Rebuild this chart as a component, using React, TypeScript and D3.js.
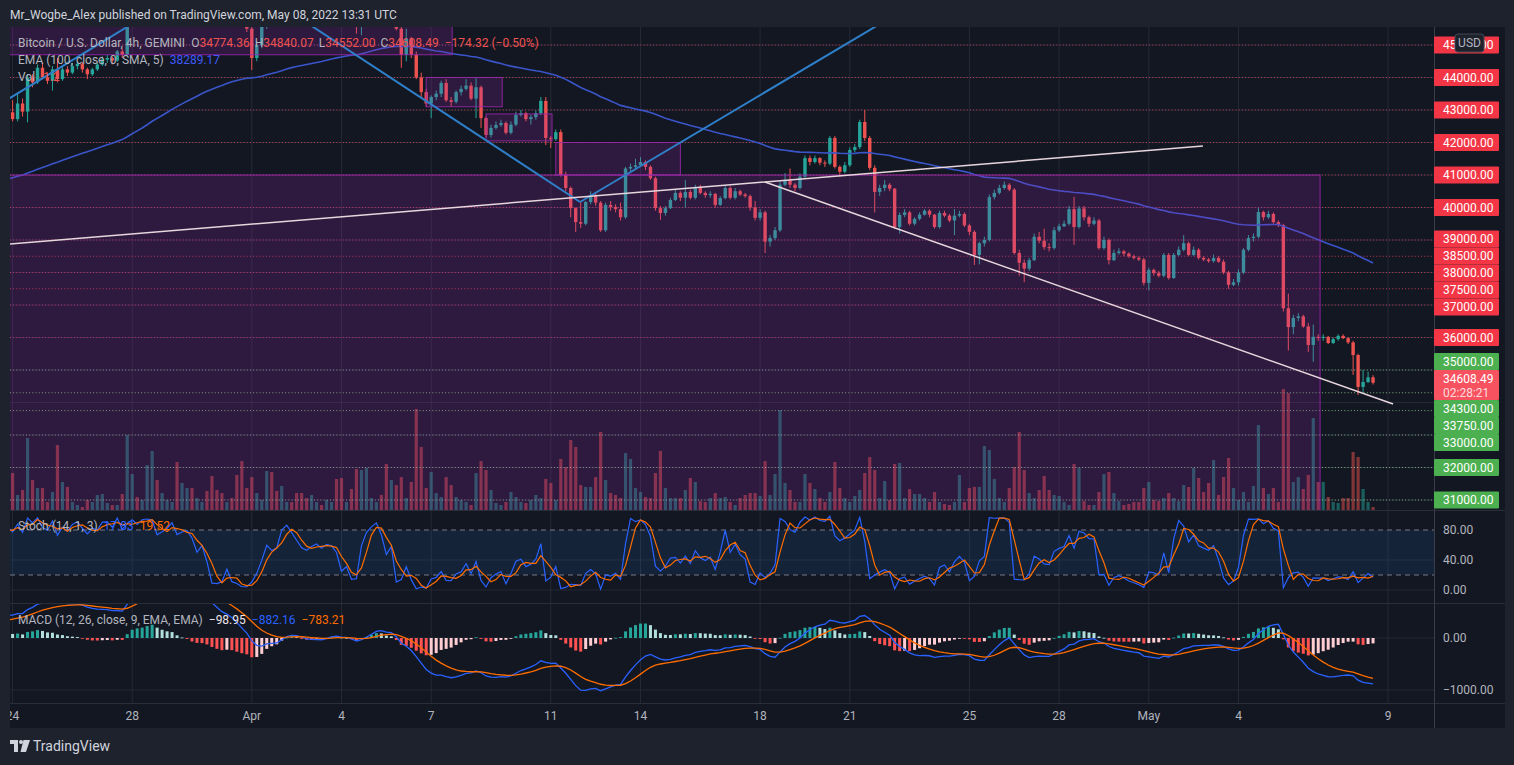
import React from "react";
import * as d3 from "d3";

// ---------------- data ----------------
// 4h bars, GEMINI BTC/USD. Warm-up bars (Mar 21-23) sit left of the visible area and only feed the indicators.
const firstBarTime = Date.UTC(2022, 2, 21, 0, 0);
const barHours = 4;
const firstOpen = 41250;
const warmupClose = [41050,40950,41150,41350,41100,41000,41150,41650,42350,42900,42550,42380,42100,42300,42550,42800,42700,42930];
const warmupHigh = [41400,41200,41300,41550,41400,41200,41250,41750,42500,43360,43000,42650,42450,42500,42700,43050,42900,43050];
const warmupLow = [40900,40700,40900,41100,40900,40550,40900,41050,41600,42250,42300,42200,41750,41900,42200,42450,42500,42600];

// visible bars from Mar 24 00:00 UTC
const close = [
42720,43200,42950,44000,43850,44300,44000,43900,44250,43950,
44250,44150,44350,44420,44250,44100,44250,44400,44550,44600,
44520,44800,44700,46500,46900,46700,46900,47500,47900,47100,
47300,47500,47800,47200,47350,47450,47100,47250,47500,47200,
46700,46600,46500,46800,46500,46000,45700,45500,44600,45000,
45600,46300,46000,45950,46600,46800,46500,46200,45900,45800,
45950,46050,46000,46300,46500,46400,46000,46100,45800,45600,
46300,46600,46900,47000,46700,46200,46400,45500,44700,45200,
44700,44000,43550,43200,43400,43500,43830,43300,43250,43550,
43650,43750,43350,43700,42750,42230,42450,42540,42600,42300,
42550,42850,42900,42720,42780,42900,43280,42140,42100,42320,
41000,40600,39980,39550,39500,40170,40380,40150,39300,40080,
40020,39950,39700,41200,41250,41300,41400,41250,40900,39980,
39830,39980,40230,40450,40300,40480,40300,40630,40450,40380,
40420,40080,40290,40600,40300,40500,40400,40350,40000,39680,
39850,38950,39060,39300,40700,40850,40700,40600,40950,41520,
41400,41520,41380,41350,42140,41250,41100,41300,41770,41860,
42630,42140,41220,40480,40600,40700,40580,39400,39770,39850,
39500,39650,39780,39900,39780,39400,39830,39750,39600,39750,
39800,39450,39250,38540,38900,39000,40320,40450,40600,40700,
40550,38600,38300,38120,38380,39100,38980,38780,38750,39300,
39420,39500,39950,39400,39970,39700,39500,39600,38750,39000,
38380,38600,38650,38580,38500,38450,38400,37680,38080,37980,
37900,38540,37830,38540,38700,38900,38540,38700,38450,38400,
38350,38450,38330,38000,37620,37700,38000,38700,39060,39100,
39860,39700,39800,39550,39460,36900,36320,36600,36650,36340,
35770,36020,36000,36020,35830,35950,36050,35980,35850,35460,
34480,34630,34774.36,34608.49];
const high = [
43300,43520,43350,44100,44100,44400,44450,44100,44350,44600,
44350,44350,44450,44500,44480,44300,44300,44450,44650,44700,
44650,44850,44900,46850,47100,47000,47000,47700,48190,48000,
47400,47600,48100,47900,47500,47600,47500,47350,47700,47600,
47300,46900,47000,47000,46900,46600,46100,45800,45600,45100,
45700,46400,46700,46200,47200,46900,46900,46600,46300,46000,
46050,46150,46100,46400,47000,46700,46500,46200,46150,45900,
46400,46900,47200,47150,47050,46750,46500,46450,45600,45500,
45250,44800,44150,43650,43450,43600,43900,43950,43400,43600,
43750,43950,43850,43980,43750,42800,42550,42650,42700,42650,
42650,42950,43000,42950,42850,42980,43400,43400,42200,42400,
42400,41100,40650,40000,40170,40200,40500,40450,40200,40150,
40200,40100,40150,41250,41350,41500,41550,41450,41300,40950,
40050,40050,40300,40550,40500,40850,40550,40700,40700,40500,
40500,40450,40350,40680,40650,40600,40550,40450,40400,40200,
39950,39900,39150,39400,40800,41060,41200,40750,41050,41600,
41600,41600,41550,41450,42200,42200,41300,41400,41850,41950,
42700,43000,42200,41300,40700,40850,40750,40600,39850,39950,
39900,39700,39850,39950,39950,39800,39900,39900,39800,39950,
39900,39850,39500,39300,38950,39100,40400,40550,40700,40800,
40750,40600,38700,38400,38450,39200,39250,39350,38900,39400,
39500,39600,40050,40330,40050,40050,39750,39700,39650,39100,
39050,38700,38750,38700,38620,38550,38500,38450,38150,38120,
38050,38600,38600,38600,38800,39150,38950,38800,38750,38500,
38450,38550,38500,38400,38050,37800,38100,38750,39150,39200,
39990,39900,39900,39850,39600,39500,37350,36700,36750,36700,
36450,36400,36100,36100,36050,36000,36100,36100,36000,35900,
35500,35000,34950,34840.07];
const low = [
42650,42650,42800,42620,43700,43800,43950,43800,43600,43850,
43900,44050,44100,44250,44150,43950,44050,44200,44350,44450,
44400,44480,44600,44650,46300,46500,46600,46800,47300,46900,
46950,47200,47400,47000,47000,47250,46900,46950,47200,47000,
46550,46450,46300,46400,46300,45800,45600,45400,44230,44500,
44900,45500,45900,45800,45900,46500,46400,46000,45650,45650,
45600,45900,45900,45950,46250,46300,45900,45900,45700,45350,
45300,46200,46500,46800,46600,46100,46100,45450,44300,44500,
44600,43950,43400,43090,42750,43300,43400,43250,43100,43200,
43450,43600,43300,42750,42450,42150,42150,42400,42480,42250,
42250,42500,42800,42650,42550,42700,42850,41920,41830,42050,
40950,40500,39700,39250,39370,39450,40100,40050,39250,39250,
39900,39850,39600,39650,41100,41150,41250,41150,40850,39900,
39620,39750,39950,40200,40200,40000,40250,40250,40400,40300,
40300,40000,40050,40250,40250,40250,40350,40300,39900,39600,
39600,38600,38800,39000,39250,40650,40600,40500,40550,40900,
41300,41350,41300,41250,41300,41200,40950,41050,41250,41700,
41800,42050,41150,39850,40350,40500,40500,39350,39200,39700,
39450,39450,39600,39750,39700,39350,39350,39700,39550,39150,
39700,39400,39150,38230,38250,38800,38950,40250,40400,40550,
40500,38550,37900,37700,38050,38350,38900,38700,38650,38700,
39250,39400,39450,38850,39350,39600,39400,39450,38700,38700,
38250,38350,38550,38500,38450,38400,38350,37600,37450,37900,
37850,37850,37780,37800,38500,38650,38500,38500,38400,38350,
38300,38300,38300,37950,37500,37580,37600,37950,38650,38950,
39050,39600,39650,39500,39400,36800,35600,36100,36500,36300,
35550,35250,35900,35900,35800,35800,35900,35950,35800,34850,
34230,34300,34600,34552];
const volume = [
370,150,200,720,300,220,220,80,180,650,280,230,80,50,30,100,80,150,160,70,50,50,160,750,
360,130,100,450,590,300,170,100,80,480,270,220,220,120,80,190,340,200,170,80,120,350,490,220,
330,170,100,390,380,190,240,80,80,170,170,120,150,80,50,100,80,310,320,80,210,410,400,420,120,80,
150,460,300,250,330,120,280,1010,630,220,380,170,130,330,250,130,100,80,50,370,490,400,200,70,50,80,
180,130,80,70,100,150,120,310,270,100,510,430,700,630,250,230,230,330,780,300,170,150,120,570,510,220,
180,130,120,370,590,220,120,120,120,200,320,280,90,80,120,170,120,130,80,50,120,150,170,170,
140,490,150,360,1000,270,200,80,80,360,270,210,120,80,180,480,220,120,80,140,200,370,530,400,
120,290,100,460,470,120,210,160,160,120,80,180,80,60,50,80,350,80,220,230,230,640,600,310,
120,80,220,430,780,400,170,120,200,340,200,150,140,80,50,460,420,90,50,50,180,360,380,170,
90,50,60,80,80,220,280,100,90,120,170,120,90,250,230,420,320,180,270,500,150,330,520,220,
100,180,80,240,850,220,160,220,80,1210,1170,280,330,210,350,920,280,280,130,80,70,120,120,580,530,210,80,30];
const emaSeed = 40400; // EMA(100) value at the first warm-up bar

const tickDates = ["2022-03-24","2022-03-28","2022-04-01","2022-04-04","2022-04-07","2022-04-11","2022-04-14","2022-04-18","2022-04-21","2022-04-25","2022-04-28","2022-05-01","2022-05-04","2022-05-09"];
const tickLabels = ["24","28","Apr","4","7","11","14","18","21","25","28","May","4","9"];

const redLevels = [45000,44000,43000,42000,41000,40000,39000,38500,38000,37500,37000,36000];
const greenLevels = [35000,34300,33750,33000,32000,31000];
const lastPrice = 34608.49;
const lastPriceTimer = "02:28:21";
const priceGrid = [45000,44000,43000,42000,41000,40000,39000,38000,37000,36000,35000,34000,33000,32000,31000];

const boxes = [
  { from: "2022-03-23T00:00Z", to: "2022-05-06T17:30Z", top: 41000, bottom: 30000 },
  { from: "2022-03-23T00:00Z", to: "2022-04-07T16:50Z", top: 46500, bottom: 44700 },
  { from: "2022-04-06T20:00Z", to: "2022-04-09T09:00Z", top: 44000, bottom: 43100 },
  { from: "2022-04-08T20:00Z", to: "2022-04-11T01:00Z", top: 42880, bottom: 42050 },
  { from: "2022-04-11T04:00Z", to: "2022-04-15T08:00Z", top: 42000, bottom: 41000 },
];
const blueLines = [
  [["2022-03-23T12:00Z", 43138], ["2022-03-29T00:00Z", 46210]],
  [["2022-04-01T16:15Z", 46385], ["2022-04-11T23:30Z", 40169]],
  [["2022-04-11T23:30Z", 40169], ["2022-04-22T16:20Z", 46015]],
];
const whiteLines = [
  [["2022-03-23T12:00Z", 38846], ["2022-05-02T19:25Z", 41892]],
  [["2022-04-18T03:50Z", 40785], ["2022-05-09T04:05Z", 33954]],
];

// ---------------- styling ----------------
const FONT = "Roboto, 'Noto Sans', sans-serif";
const UP = "#26a69a";
const DOWN = "#ef5350";
const TXT = "#b2b5be";
const GRID = "#252936";

function layoutLabels(desired: number[], heights: number[]): number[] {
  const idx = desired.map((_, i) => i).sort((a, b) => desired[a] - desired[b]);
  const place = (ids: number[]) => {
    const total = d3.sum(ids, (i) => heights[i]);
    const mean = d3.mean(ids, (i) => desired[i]) as number;
    const pushTop = desired[ids[0]] - heights[ids[0]] / 2;
    return { ids, total, top: (mean - total / 2) * 0.7 + pushTop * 0.3 };
  };
  let groups = idx.map((i) => place([i]));
  let merged = true;
  while (merged) {
    merged = false;
    for (let j = 1; j < groups.length; j++) {
      const a = groups[j - 1], b = groups[j];
      if (a.top + a.total > b.top + 0.01) {
        groups.splice(j - 1, 2, place([...a.ids, ...b.ids]));
        merged = true;
        break;
      }
    }
  }
  const out: number[] = new Array(desired.length);
  groups.forEach((g) => {
    let y = g.top;
    g.ids.forEach((i) => { out[i] = y + heights[i] / 2; y += heights[i]; });
  });
  return out;
}

export default function App() {
  const PRE = warmupClose.length;
  const allC = [...warmupClose, ...close];
  const allH = [...warmupHigh, ...high];
  const allL = [...warmupLow, ...low];
  const bars = allC.map((c, i) => {
    const o = i === 0 ? firstOpen : allC[i - 1];
    return {
      i, k: i - PRE,
      t: new Date(firstBarTime + i * barHours * 3600e3),
      o, c,
      h: Math.max(allH[i], o, c),
      l: Math.min(allL[i], o, c),
      v: i >= PRE ? volume[i - PRE] : 0,
    };
  });

  const emaCalc = (vals: number[], period: number, seed: number) => {
    const a = 2 / (period + 1);
    let e = seed;
    return vals.map((v, i) => { e = i === 0 ? seed : e + a * (v - e); return e; });
  };
  const ema100 = emaCalc(allC, 100, emaSeed);
  const e12 = emaCalc(allC, 12, allC[0]);
  const e26 = emaCalc(allC, 26, allC[0]);
  const macd = e12.map((v, i) => v - e26[i]);
  const signal = emaCalc(macd, 9, macd[0]);
  const hist = macd.map((v, i) => v - signal[i]);
  const stochK = bars.map((b, i) => {
    const w = bars.slice(Math.max(0, i - 13), i + 1);
    const hh = d3.max(w, (d) => d.h) as number;
    const ll = d3.min(w, (d) => d.l) as number;
    return hh === ll ? 50 : (100 * (b.c - ll)) / (hh - ll);
  });
  const stochD = stochK.map((_, i) => d3.mean(stochK.slice(Math.max(0, i - 2), i + 1)) as number);

  // layout
  const L = 10, R = 1434;
  const mainTop = 27, mainBot = 510, stochTop = 511, stochBot = 603, macdTop = 604, macdBot = 703, axisBot = 728;

  const x = d3.scaleUtc()
    .domain([new Date(Date.UTC(2022, 2, 24)), new Date(Date.UTC(2022, 4, 9))])
    .range([12.6, 1388]);
  const yP = d3.scaleLinear().domain([35000, 45000]).range([370, 45]);
  const yV = d3.scaleLinear().domain([0, 1300]).range([mainBot, 380]);
  const yS = d3.scaleLinear().domain([0, 80]).range([590, 530]);
  const yM = d3.scaleLinear().domain([-1000, 0]).range([690, 638]);

  const vis = bars.filter((b) => b.k >= -1);
  const bodyW = 3.4;

  const lineGen = (vals: number[], y: (v: number) => number) =>
    d3.line<any>().x((b) => x(b.t)).y((b) => y(vals[b.i]))(vis) || "";

  const ticks = tickDates.map((d) => new Date(d + "T00:00Z"));

  // price labels
  const levels = [
    ...redLevels.map((p) => ({ p, color: "#f23645", h: 17, two: false })),
    ...greenLevels.map((p) => ({ p, color: "#4caf50", h: 17, two: false })),
    { p: lastPrice, color: "#f7525f", h: 30, two: true },
  ];
  const labelY = layoutLabels(levels.map((l) => yP(l.p)), levels.map((l) => l.h));

  const fmt = d3.format(".2f");
  const dt = (s: string) => new Date(s);

  const histColor = (i: number) => {
    const h = hist[i], p = hist[i - 1] ?? h;
    if (h >= 0) return p < h ? "#26a69a" : "#b2dfdb";
    return p < h ? "#ffcdd2" : "#ff5252";
  };

  return (
    <svg width={1514} height={765} style={{ position: "absolute", left: 0, top: 0, fontFamily: FONT }}>
      <defs>
        <clipPath id="cMain"><rect x={L} y={mainTop} width={R - L} height={mainBot - mainTop} /></clipPath>
        <clipPath id="cStoch"><rect x={L} y={stochTop} width={R - L} height={stochBot - stochTop} /></clipPath>
        <clipPath id="cMacd"><rect x={L} y={macdTop} width={R - L} height={macdBot - macdTop} /></clipPath>
      </defs>
      <rect x={0} y={0} width={1514} height={765} fill="#1e222d" />
      <rect x={L} y={mainTop} width={1505 - L} height={axisBot - mainTop} fill="#131722" />
      <text x={10} y={18.5} fontSize={12} fill="#d1d4dc">Mr_Wogbe_Alex published on TradingView.com, May 08, 2022 13:31 UTC</text>

      {/* ---- main pane ---- */}
      <g clipPath="url(#cMain)">
        {ticks.map((t, i) => <line key={"vg" + i} x1={x(t)} x2={x(t)} y1={mainTop} y2={mainBot} stroke={GRID} />)}
        {priceGrid.map((p) => <line key={"hg" + p} x1={L} x2={R} y1={yP(p)} y2={yP(p)} stroke={GRID} />)}
        {vis.filter((b) => b.k >= 0).map((b) => (
          <rect key={"v" + b.i} x={x(b.t) - 1.6} width={3.2} y={yV(b.v)} height={mainBot - yV(b.v)}
            fill={b.c >= b.o ? UP : DOWN} fillOpacity={0.5} />
        ))}
        {levels.filter((l) => !l.two).map((l) => (
          <line key={"al" + l.p} x1={L} x2={R} y1={yP(l.p)} y2={yP(l.p)} stroke={l.color === "#f23645" ? "#e0405f" : "#8fd08f"}
            strokeDasharray="1 2.2" strokeWidth={1} opacity={0.85} />
        ))}
        {vis.map((b) => {
          const col = b.c >= b.o ? UP : DOWN;
          const cx = x(b.t);
          const top = yP(Math.max(b.o, b.c)), bot = yP(Math.min(b.o, b.c));
          return (
            <g key={"c" + b.i}>
              <line x1={cx} x2={cx} y1={yP(b.h)} y2={yP(b.l)} stroke={col} strokeWidth={1} />
              <rect x={cx - bodyW / 2} width={bodyW} y={top} height={Math.max(1, bot - top)} fill={col} />
            </g>
          );
        })}
        <path d={lineGen(ema100, yP)} fill="none" stroke="#3a55c9" strokeWidth={1.6} />
        {boxes.map((bx, i) => (
          <rect key={"bx" + i} x={x(dt(bx.from))} y={yP(bx.top)} width={x(dt(bx.to)) - x(dt(bx.from))}
            height={yP(bx.bottom) - yP(bx.top)} fill="#9c27b0" fillOpacity={0.2} stroke="#9c27b0" strokeOpacity={0.85} strokeWidth={1} />
        ))}
        {blueLines.map((ln, i) => (
          <line key={"bl" + i} x1={x(dt(ln[0][0] as string))} y1={yP(ln[0][1] as number)} x2={x(dt(ln[1][0] as string))} y2={yP(ln[1][1] as number)}
            stroke="#2f7fc8" strokeWidth={2} />
        ))}
        {whiteLines.map((ln, i) => (
          <line key={"wl" + i} x1={x(dt(ln[0][0] as string))} y1={yP(ln[0][1] as number)} x2={x(dt(ln[1][0] as string))} y2={yP(ln[1][1] as number)}
            stroke="#e8d6dd" strokeWidth={1.5} />
        ))}
      </g>
      {/* legend main */}
      <text x={18} y={47} fontSize={12} fill={TXT}>
        Bitcoin / U.S. Dollar, 4h, GEMINI
        <tspan dx={6}>O</tspan><tspan fill={DOWN}>34774.36</tspan>
        <tspan dx={5}>H</tspan><tspan fill={DOWN}>34840.07</tspan>
        <tspan dx={5}>L</tspan><tspan fill={DOWN}>34552.00</tspan>
        <tspan dx={5}>C</tspan><tspan fill={DOWN}>34608.49</tspan>
        <tspan dx={6} fill={DOWN}>−174.32 (−0.50%)</tspan>
      </text>
      <text x={18} y={64} fontSize={12} fill={TXT}>
        EMA (100, close, 0, SMA, 5)<tspan dx={6} fill="#3d5afe">38289.17</tspan>
      </text>
      <text x={18} y={81} fontSize={12} fill={TXT}>
        Vol<tspan dx={8} fill={DOWN}>1.2</tspan>
      </text>

      {/* ---- stoch pane ---- */}
      <line x1={L} x2={1505} y1={510.5} y2={510.5} stroke="#2a2e39" />
      <g clipPath="url(#cStoch)">
        {ticks.map((t, i) => <line key={"svg" + i} x1={x(t)} x2={x(t)} y1={stochTop} y2={stochBot} stroke={GRID} />)}
        {[0, 40].map((v) => <line key={"sg" + v} x1={L} x2={R} y1={yS(v)} y2={yS(v)} stroke={GRID} />)}
        <rect x={L} y={yS(80)} width={R - L} height={yS(20) - yS(80)} fill="#2196f3" fillOpacity={0.1} />
        {[80, 20].map((v) => (
          <line key={"sd" + v} x1={L} x2={R} y1={yS(v)} y2={yS(v)} stroke="#787b86" strokeDasharray="5 4" />
        ))}
        <path d={lineGen(stochK, yS)} fill="none" stroke="#2962ff" strokeWidth={1.2} />
        <path d={lineGen(stochD, yS)} fill="none" stroke="#ff6d00" strokeWidth={1.2} />
      </g>
      <text x={18} y={530} fontSize={12} fill={TXT}>
        Stoch (14, 1, 3)<tspan dx={6} fill="#2962ff">17.83</tspan><tspan dx={6} fill="#ff6d00">19.52</tspan>
      </text>

      {/* ---- macd pane ---- */}
      <line x1={L} x2={1505} y1={603.5} y2={603.5} stroke="#2a2e39" />
      <g clipPath="url(#cMacd)">
        {ticks.map((t, i) => <line key={"mvg" + i} x1={x(t)} x2={x(t)} y1={macdTop} y2={macdBot} stroke={GRID} />)}
        {[0, -1000].map((v) => <line key={"mg" + v} x1={L} x2={R} y1={yM(v)} y2={yM(v)} stroke={GRID} />)}
        {vis.map((b) => {
          const h = hist[b.i];
          return <rect key={"h" + b.i} x={x(b.t) - 1.5} width={3} y={Math.min(yM(h), yM(0))} height={Math.max(0.8, Math.abs(yM(h) - yM(0)))} fill={histColor(b.i)} />;
        })}
        <path d={lineGen(macd, yM)} fill="none" stroke="#2962ff" strokeWidth={1.3} />
        <path d={lineGen(signal, yM)} fill="none" stroke="#ff6d00" strokeWidth={1.3} />
      </g>
      <text x={18} y={624} fontSize={12} fill={TXT}>
        MACD (12, 26, close, 9, EMA, EMA)<tspan dx={6} fill="#f0e6ea">−98.95</tspan><tspan dx={6} fill="#2962ff">−882.16</tspan><tspan dx={6} fill="#ff6d00">−783.21</tspan>
      </text>

      {/* ---- time axis ---- */}
      <line x1={L} x2={1505} y1={703.5} y2={703.5} stroke="#2a2e39" />
      {ticks.map((t, i) => (
        <text key={"tl" + i} x={x(t)} y={720} fontSize={12} fill={TXT} textAnchor="middle">{tickLabels[i]}</text>
      ))}
      <rect x={0} y={700} width={L} height={30} fill="#1e222d" />

      {/* ---- price axis ---- */}
      <line x1={R + 0.5} x2={R + 0.5} y1={mainTop} y2={axisBot} stroke="#3a3e4a" />
      {levels.map((l, i) => (
        <g key={"pl" + i}>
          <rect x={R} y={labelY[i] - l.h / 2} width={65} height={l.h} fill={l.color} rx={1} />
          {l.two ? (
            <>
              <text x={1443} y={labelY[i] - 2} fontSize={12} fill="#ffffff">{fmt(l.p)}</text>
              <text x={1443} y={labelY[i] + 12} fontSize={12} fill="#ffffff" fillOpacity={0.8}>{lastPriceTimer}</text>
            </>
          ) : (
            <text x={1443} y={labelY[i] + 4.3} fontSize={12} fill="#ffffff">{fmt(l.p)}</text>
          )}
        </g>
      ))}
      <rect x={1455} y={34} width={29} height={18} rx={3} fill="#1e222d" stroke="#434651" />
      <text x={1469.5} y={47} fontSize={12} fill={TXT} textAnchor="middle">USD</text>
      {[80, 40, 0].map((v) => (
        <text key={"sl" + v} x={1443} y={yS(v) + 4.3} fontSize={12} fill={TXT}>{fmt(v)}</text>
      ))}
      {[0, -1000].map((v) => (
        <text key={"ml" + v} x={1443} y={yM(v) + 4.3} fontSize={12} fill={TXT}>{fmt(v).replace("-", "−")}</text>
      ))}

      {/* ---- footer ---- */}
      <path d="M10 740 H18 V752 H14 V744 H10 Z" fill="#d1d4dc" />
      <circle cx={21} cy={742} r={2} fill="#d1d4dc" />
      <path d="M23.5 740 H30 L26 752 H20.5 Z" fill="#d1d4dc" />
      <text x={33} y={751} fontSize={14} fill="#d1d4dc">TradingView</text>
    </svg>
  );
}
